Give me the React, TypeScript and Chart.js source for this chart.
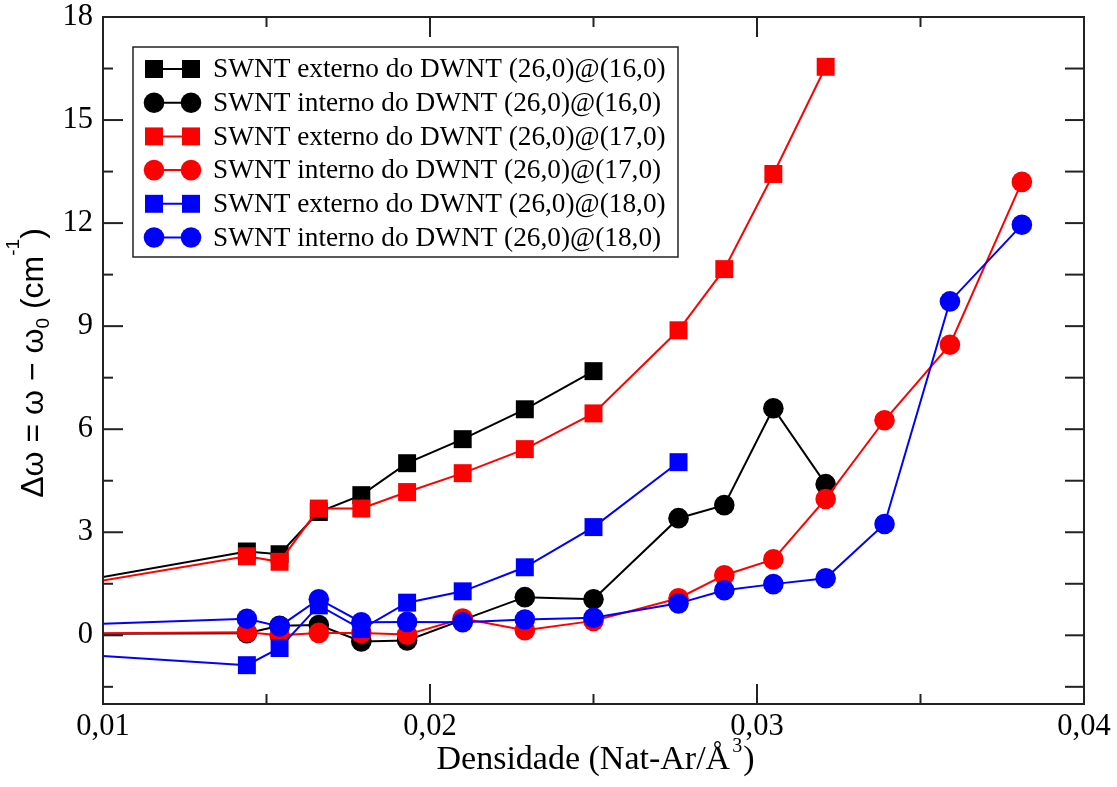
import { useEffect, useRef } from "react";
import { Chart, registerables } from "chart.js";

Chart.register(...registerables);

// Densidade (Nat-Ar/Å^3) em que cada ponto foi calculado
const densidade = [
  0, 0.0144, 0.0154, 0.0166, 0.0179, 0.0193, 0.021, 0.0229, 0.025,
  0.0276, 0.029, 0.0305, 0.0321, 0.0339, 0.0359, 0.0381,
];

// Δω (cm^-1) para cada tubo
const externo16 = [0, 2.44, 2.36, 3.59, 4.08, 5.01, 5.71, 6.58, 7.69];
const interno16 = [0, 0.06, 0.28, 0.3, -0.18, -0.15, 0.45, 1.11, 1.05, 3.41, 3.79, 6.61, 4.4];
const externo17 = [0, 2.3, 2.14, 3.69, 3.69, 4.17, 4.72, 5.42, 6.46, 8.88, 10.66, 13.43, 16.55];
const interno17 = [0, 0.09, 0.0, 0.07, 0.07, 0.02, 0.49, 0.15, 0.42, 1.08, 1.75, 2.21, 3.97, 6.26, 8.46, 13.2];
const externo18 = [0, -0.87, -0.37, 0.87, 0.18, 0.95, 1.28, 1.98, 3.15, 5.04];
const interno18 = [0, 0.48, 0.26, 1.05, 0.38, 0.39, 0.38, 0.46, 0.51, 0.93, 1.31, 1.49, 1.66, 3.24, 9.72, 11.95];

const legendas = [
  "SWNT externo do DWNT (26,0)@(16,0)",
  "SWNT interno do DWNT (26,0)@(16,0)",
  "SWNT externo do DWNT (26,0)@(17,0)",
  "SWNT interno do DWNT (26,0)@(17,0)",
  "SWNT externo do DWNT (26,0)@(18,0)",
  "SWNT interno do DWNT (26,0)@(18,0)",
];

const X_TICKS = [0.01, 0.02, 0.03, 0.04];
const X_MINOR = [0.015, 0.025, 0.035];
const Y_TICKS = [0, 3, 6, 9, 12, 15, 18];
const Y_MINOR = [-1.5, 1.5, 4.5, 7.5, 10.5, 13.5, 16.5];

const PRETO = "#000000";
const VERMELHO = "#ff0000";
const AZUL = "#0000ff";

const serie = (valores: number[]) => valores.map((y, i) => ({ x: densidade[i], y }));

type Serie = { label: string; valores: number[]; cor: string; forma: "rect" | "circle"; ordem: number };

const series: Serie[] = [
  { label: legendas[0], valores: externo16, cor: PRETO, forma: "rect", ordem: 6 },
  { label: legendas[1], valores: interno16, cor: PRETO, forma: "circle", ordem: 5 },
  { label: legendas[2], valores: externo17, cor: VERMELHO, forma: "rect", ordem: 4 },
  { label: legendas[3], valores: interno17, cor: VERMELHO, forma: "circle", ordem: 3 },
  { label: legendas[4], valores: externo18, cor: AZUL, forma: "rect", ordem: 2 },
  { label: legendas[5], valores: interno18, cor: AZUL, forma: "circle", ordem: 1 },
];

const RAIO_QUADRADO = 12.7;
const RAIO_CIRCULO = 10.3;
const SERIF = "'Liberation Serif', 'Times New Roman', serif";
const SANS = "'Liberation Sans', Arial, sans-serif";

const formatar = (v: number) => v.toFixed(2).replace(".", ",");

function marcador(ctx: CanvasRenderingContext2D, forma: string, x: number, y: number, cor: string) {
  ctx.fillStyle = cor;
  ctx.beginPath();
  if (forma === "rect") {
    const h = RAIO_QUADRADO * Math.SQRT1_2;
    ctx.rect(x - h, y - h, 2 * h, 2 * h);
  } else {
    ctx.arc(x, y, RAIO_CIRCULO, 0, Math.PI * 2);
  }
  ctx.fill();
}

const moldura = {
  id: "moldura",
  afterDatasetsDraw(chart: any) {
    const { ctx, chartArea: a, scales } = chart;
    const xs = scales.x;
    const ys = scales.y;
    ctx.save();
    ctx.strokeStyle = "#222";
    ctx.lineWidth = 2;
    ctx.strokeRect(a.left, a.top, a.right - a.left, a.bottom - a.top);

    const traco = (x1: number, y1: number, x2: number, y2: number) => {
      ctx.beginPath();
      ctx.moveTo(x1, y1);
      ctx.lineTo(x2, y2);
      ctx.stroke();
    };
    for (const v of X_TICKS) {
      const px = xs.getPixelForValue(v);
      traco(px, a.bottom, px, a.bottom - 20);
      traco(px, a.top, px, a.top + 20);
    }
    for (const v of X_MINOR) {
      const px = xs.getPixelForValue(v);
      traco(px, a.bottom, px, a.bottom - 10);
      traco(px, a.top, px, a.top + 10);
    }
    for (const v of Y_TICKS) {
      const py = ys.getPixelForValue(v);
      traco(a.left, py, a.left + 20, py);
      traco(a.right, py, a.right - 19, py);
    }
    for (const v of Y_MINOR) {
      const py = ys.getPixelForValue(v);
      traco(a.left, py, a.left + 10, py);
      traco(a.right, py, a.right - 19, py);
    }

    // Legenda
    const lx = 133, ly = 47, lw = 545, lh = 210;
    ctx.fillStyle = "#fff";
    ctx.fillRect(lx, ly, lw, lh);
    ctx.lineWidth = 1.5;
    ctx.strokeStyle = "#222";
    ctx.strokeRect(lx, ly, lw, lh);
    series.forEach((s, i) => {
      const y = 69 + i * 33.7;
      ctx.strokeStyle = s.cor;
      ctx.lineWidth = 2;
      traco(154, y, 191, y);
      marcador(ctx, s.forma, 154, y, s.cor);
      marcador(ctx, s.forma, 191, y, s.cor);
      ctx.fillStyle = "#000";
      ctx.font = `27.3px ${SERIF}`;
      ctx.textAlign = "left";
      ctx.textBaseline = "middle";
      ctx.fillText(s.label, 213, y + 1);
    });

    // Título do eixo x
    ctx.fillStyle = "#000";
    ctx.textBaseline = "alphabetic";
    ctx.textAlign = "left";
    const fx = `34px ${SERIF}`;
    const fxs = `20px ${SERIF}`;
    const t1 = "Densidade (Nat-Ar/Å";
    const t2 = "3";
    const t3 = ")";
    ctx.font = fx;
    const w1 = ctx.measureText(t1).width;
    const w3 = ctx.measureText(t3).width;
    ctx.font = fxs;
    const w2 = ctx.measureText(t2).width + 3;
    const x0 = (a.left + a.right) / 2 + 2 - (w1 + w2 + w3) / 2;
    const by = 769;
    ctx.font = fx;
    ctx.fillText(t1, x0, by);
    ctx.font = fxs;
    ctx.fillText(t2, x0 + w1 + 2, by - 17);
    ctx.font = fx;
    ctx.fillText(t3, x0 + w1 + w2, by);

    // Título do eixo y
    ctx.save();
    ctx.translate(43, 363);
    ctx.rotate(-Math.PI / 2);
    const fy = `32px ${SANS}`;
    const fys = `19px ${SANS}`;
    const partes: [string, string, number][] = [
      ["Δω = ω − ω", fy, 0],
      ["0", fys, 6],
      [" (cm", fy, 0],
      ["-1", fys, -24],
      [")", fy, 0],
    ];
    let total = 0;
    for (const [t, f] of partes) {
      ctx.font = f;
      total += ctx.measureText(t).width;
    }
    let cx = -total / 2;
    for (const [t, f, dy] of partes) {
      ctx.font = f;
      ctx.fillText(t, cx, dy);
      cx += ctx.measureText(t).width;
    }
    ctx.restore();
    ctx.restore();
  },
};

export default function App() {
  const ref = useRef<HTMLCanvasElement | null>(null);

  useEffect(() => {
    if (!ref.current) return;
    const chart = new Chart(ref.current, {
      type: "line",
      data: {
        datasets: series.map((s) => ({
          label: s.label,
          data: serie(s.valores),
          borderColor: s.cor,
          backgroundColor: s.cor,
          borderWidth: 2,
          pointStyle: s.forma,
          pointRadius: s.forma === "rect" ? RAIO_QUADRADO : RAIO_CIRCULO,
          pointBackgroundColor: s.cor,
          pointBorderColor: s.cor,
          pointBorderWidth: 0,
          tension: 0,
          fill: false,
          clip: 0,
          order: s.ordem,
        })),
      },
      options: {
        animation: false,
        responsive: false,
        maintainAspectRatio: false,
        events: [],
        layout: { padding: { top: 17, right: 33, left: 0, bottom: 0 } },
        plugins: { legend: { display: false }, tooltip: { enabled: false } },
        scales: {
          x: {
            type: "linear",
            min: 0.01,
            max: 0.04,
            grid: { display: false, drawTicks: false },
            border: { display: false },
            afterBuildTicks: (s: any) => {
              s.ticks = X_TICKS.map((value) => ({ value }));
            },
            afterFit: (s: any) => {
              s.height = 83;
              s.paddingLeft = 0;
              s.paddingRight = 0;
            },
            ticks: {
              autoSkip: false,
              maxRotation: 0,
              padding: 5,
              color: "#000",
              font: { family: SERIF, size: 30.5, lineHeight: 1.2 },
              callback: (v: any) => formatar(Number(v)),
            },
          },
          y: {
            type: "linear",
            min: -2,
            max: 18,
            grid: { display: false, drawTicks: false },
            border: { display: false },
            afterBuildTicks: (s: any) => {
              s.ticks = Y_TICKS.map((value) => ({ value }));
            },
            afterFit: (s: any) => {
              s.width = 103;
              s.paddingTop = 0;
              s.paddingBottom = 0;
            },
            ticks: {
              autoSkip: false,
              padding: 10,
              color: "#000",
              font: { family: SERIF, size: 30.5, lineHeight: 1 },
              callback: (v: any) => String(v),
            },
          },
        },
      },
      plugins: [moldura],
    } as any);
    return () => chart.destroy();
  }, []);

  return (
    <div style={{ position: "fixed", left: 0, top: 0, width: 1117, height: 787, background: "#fff" }}>
      <canvas ref={ref} width={1117} height={787} style={{ display: "block" }} />
    </div>
  );
}
